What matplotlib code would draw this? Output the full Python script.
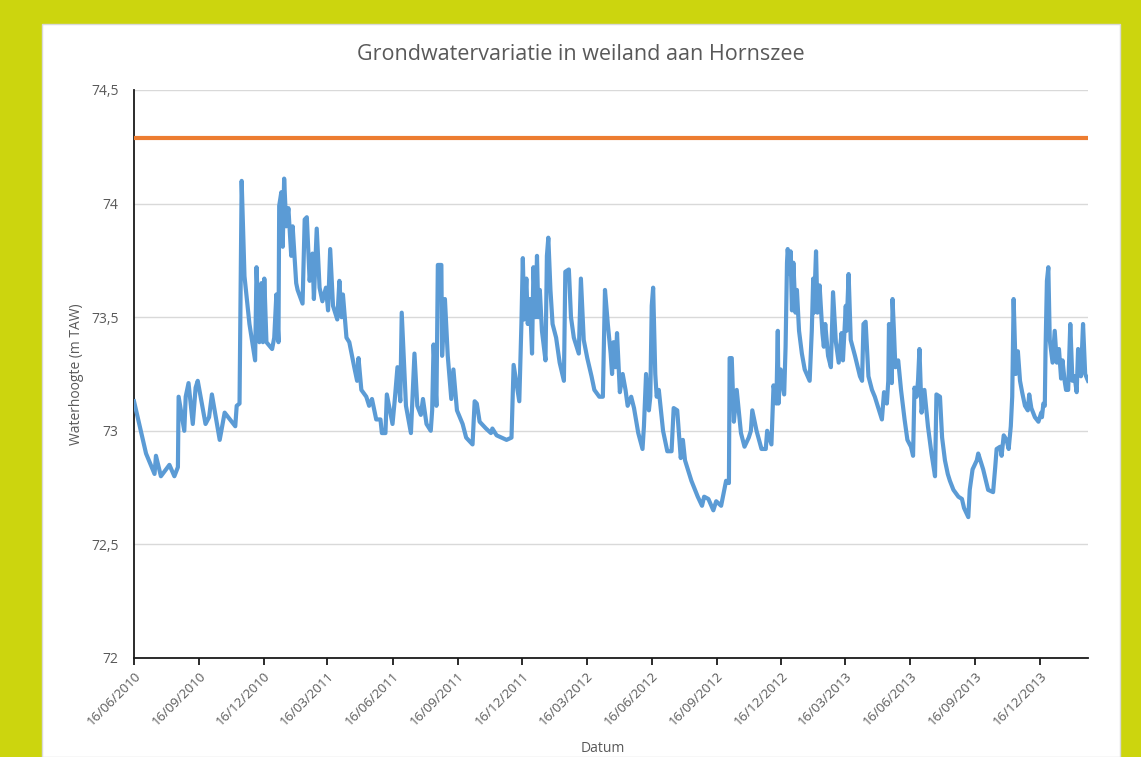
import numpy as np
import matplotlib
matplotlib.use('Agg')
import matplotlib.pyplot as plt
import matplotlib.dates as mdates
from matplotlib.patches import Rectangle
from matplotlib.ticker import FuncFormatter

# data: days after 16/06/2010 and water level (m TAW)
startdatum = np.datetime64('2010-06-16')
dagen = [0, 17, 29, 31, 38, 50, 57, 62, 63, 71, 73, 77, 83, 87, 90, 101, 106, 110, 121, 128,
         143, 145, 149, 152, 156, 163, 171, 173, 177, 180, 182, 184, 187, 195, 198, 201, 204, 205,
         208, 210, 212, 215, 218, 222, 224, 229, 231, 238, 241, 244, 248, 252, 254, 258, 262, 266,
         271, 274, 277, 281, 287, 290, 293, 295, 300, 304, 311, 315, 317, 321, 328, 332, 336, 342,
         348, 350, 355, 357, 365, 368, 372, 376, 378, 384, 391, 396, 400, 405, 408, 413, 419, 421,
         423, 427, 429, 434, 435, 439, 443, 448, 451, 456, 464, 469, 478, 481, 484, 488, 497, 504,
         506, 512, 519, 526, 533, 536, 541, 544, 547, 549, 551, 554, 556, 559, 562, 564, 567, 569,
         571, 573, 576, 581, 583, 585, 588, 591, 596, 601, 607, 609, 614, 617, 621, 626, 628, 631,
         635, 640, 646, 650, 657, 662, 665, 669, 673, 675, 677, 680, 682, 686, 690, 694, 697, 702,
         706, 712, 718, 720, 723, 727, 729, 731, 733, 736, 738, 741, 747, 753, 759, 762, 767, 772,
         775, 778, 787, 796, 802, 805, 811, 818, 822, 829, 836, 840, 841, 844, 847, 851, 857, 862,
         868, 871, 873, 879, 886, 892, 894, 900, 903, 907, 909, 910, 913, 918, 920, 922, 923, 926,
         927, 929, 931, 934, 936, 939, 943, 947, 954, 957, 959, 960, 963, 965, 968, 972, 974, 976,
         980, 984, 987, 991, 995, 999, 1001, 1005, 1006, 1009, 1012, 1018, 1025, 1028, 1030, 1033,
         1037, 1042, 1046, 1052, 1056, 1059, 1063, 1065, 1066, 1070, 1071, 1073, 1075, 1079, 1083,
         1088, 1092, 1097, 1100, 1102, 1105, 1107, 1109, 1112, 1116, 1121, 1126, 1131, 1133, 1138,
         1141, 1145, 1149, 1152, 1157, 1164, 1169, 1172, 1178, 1180, 1184, 1190, 1192, 1199, 1206,
         1213, 1216, 1218, 1223, 1225, 1228, 1232, 1235, 1238, 1240, 1242, 1245, 1248, 1251, 1254,
         1258, 1262, 1264, 1267, 1272, 1277, 1281, 1282, 1284, 1286, 1287, 1289, 1291, 1293, 1297,
         1300, 1303, 1306, 1309, 1311, 1314, 1316, 1319, 1322, 1325, 1328, 1331, 1333, 1337, 1340,
         1343, 1347]
peil = [73.13, 72.90, 72.81, 72.89, 72.80, 72.85, 72.80, 72.84, 73.15, 73.00, 73.15, 73.21, 73.03,
        73.19, 73.22, 73.03, 73.06, 73.16, 72.96, 73.08, 73.02, 73.11, 73.12, 74.10, 73.68, 73.47,
        73.31, 73.72, 73.39, 73.65, 73.39, 73.67, 73.39, 73.36, 73.41, 73.60, 73.39, 73.99, 74.05,
        73.81, 74.11, 73.90, 73.98, 73.77, 73.90, 73.65, 73.62, 73.56, 73.93, 73.94, 73.66, 73.78,
        73.58, 73.89, 73.63, 73.57, 73.63, 73.53, 73.80, 73.55, 73.49, 73.66, 73.50, 73.60, 73.41,
        73.39, 73.28, 73.22, 73.32, 73.18, 73.15, 73.11, 73.14, 73.05, 73.05, 72.99, 72.99, 73.16,
        73.03, 73.13, 73.28, 73.13, 73.52, 73.11, 72.99, 73.34, 73.11, 73.07, 73.14, 73.03, 73.00,
        73.09, 73.38, 73.11, 73.73, 73.73, 73.33, 73.58, 73.33, 73.14, 73.27, 73.09, 73.03, 72.97,
        72.94, 73.13, 73.12, 73.04, 73.01, 72.99, 73.01, 72.98, 72.97, 72.96, 72.97, 73.29, 73.19,
        73.13, 73.47, 73.76, 73.49, 73.67, 73.47, 73.58, 73.34, 73.72, 73.50, 73.77, 73.50, 73.62,
        73.44, 73.31, 73.77, 73.85, 73.62, 73.47, 73.41, 73.30, 73.22, 73.70, 73.71, 73.50, 73.41,
        73.36, 73.34, 73.67, 73.40, 73.32, 73.24, 73.18, 73.15, 73.15, 73.62, 73.47, 73.34, 73.25,
        73.39, 73.28, 73.43, 73.17, 73.25, 73.18, 73.11, 73.15, 73.10, 72.99, 72.92, 73.02, 73.25,
        73.09, 73.15, 73.55, 73.63, 73.25, 73.15, 73.18, 73.00, 72.91, 72.91, 73.10, 73.09, 72.88,
        72.96, 72.87, 72.78, 72.71, 72.67, 72.71, 72.70, 72.65, 72.69, 72.67, 72.78, 72.77, 73.32,
        73.32, 73.04, 73.18, 72.99, 72.93, 72.97, 73.00, 73.09, 73.00, 72.92, 72.92, 73.00, 72.94,
        73.20, 73.12, 73.44, 73.12, 73.27, 73.16, 73.37, 73.74, 73.80, 73.69, 73.79, 73.53, 73.74,
        73.52, 73.62, 73.44, 73.34, 73.27, 73.22, 73.44, 73.67, 73.52, 73.79, 73.52, 73.64, 73.43,
        73.37, 73.47, 73.33, 73.28, 73.61, 73.39, 73.30, 73.43, 73.31, 73.55, 73.44, 73.69, 73.40,
        73.33, 73.24, 73.22, 73.47, 73.48, 73.24, 73.18, 73.15, 73.09, 73.05, 73.17, 73.12, 73.22,
        73.47, 73.21, 73.58, 73.44, 73.28, 73.31, 73.18, 73.05, 72.96, 72.93, 72.89, 73.19, 73.15,
        73.22, 73.36, 73.08, 73.18, 73.02, 72.90, 72.80, 73.16, 73.15, 72.97, 72.87, 72.81, 72.78,
        72.74, 72.71, 72.70, 72.66, 72.62, 72.74, 72.83, 72.87, 72.90, 72.83, 72.74, 72.73, 72.84,
        72.92, 72.93, 72.89, 72.98, 72.96, 72.92, 73.02, 73.15, 73.58, 73.25, 73.35, 73.22, 73.17,
        73.11, 73.09, 73.16, 73.10, 73.06, 73.04, 73.08, 73.06, 73.12, 73.11, 73.35, 73.66, 73.72,
        73.40, 73.30, 73.44, 73.30, 73.36, 73.23, 73.31, 73.22, 73.18, 73.18, 73.47, 73.22, 73.24,
        73.17, 73.36, 73.24, 73.47, 73.25, 73.22]
drempel = 74.29
y_ticks = [72, 72.5, 73, 73.5, 74, 74.5]

datums = startdatum + np.array(dagen).astype('timedelta64[D]')

fig = plt.figure(figsize=(11.41, 7.57), dpi=100)
fig.patch.set_facecolor('#CCD50E')
fig.patches.append(Rectangle((42/1141, 0), (1120-42)/1141, 1-24/757, transform=fig.transFigure,
                             facecolor='white', edgecolor='#D9D9D9', lw=1, zorder=0))

ax = fig.add_axes([134/1141, 1-658/757, (1088-134)/1141, (658-90)/757])
ax.set_zorder(2)
ax.set_facecolor('white')
ax.plot(datums, peil, color='#5B9BD5', lw=3, solid_joinstyle='round', zorder=3)
ax.plot([datums[0], datums[-1]], [drempel, drempel], color='#ED7D31', lw=3, zorder=3)

ax.set_xlim(datums[0], datums[-1])
ax.set_ylim(72, 74.5)
ax.set_yticks(y_ticks)
ax.yaxis.set_major_formatter(FuncFormatter(lambda v, p: '{:g}'.format(v).replace('.', ',')))
ax.xaxis.set_major_locator(mdates.MonthLocator(bymonth=(3, 6, 9, 12), bymonthday=16))
ax.xaxis.set_major_formatter(mdates.DateFormatter('%d/%m/%Y'))
ax.grid(axis='y', color='#D9D9D9', lw=1)
ax.set_axisbelow(True)

for s in ['top', 'right']:
    ax.spines[s].set_visible(False)
for s in ['left', 'bottom']:
    ax.spines[s].set_color('#1A1A1A')
    ax.spines[s].set_linewidth(1.3)

ax.tick_params(axis='y', length=0, pad=11, labelsize=10, labelcolor='#595959')
ax.tick_params(axis='x', length=5, width=1.3, color='#1A1A1A', direction='out',
               labelsize=9.5, labelcolor='#595959', pad=3)
for lbl in ax.get_xticklabels():
    lbl.set_rotation(45)
    lbl.set_ha('right')
    lbl.set_rotation_mode('anchor')

fam = ['Open Sans', 'DejaVu Sans']
for lbl in ax.get_xticklabels() + ax.get_yticklabels():
    lbl.set_family(fam)

fig.text(581/1141, 1-55/757, 'Grondwatervariatie in weiland aan Hornszee', ha='center', va='center',
         fontsize=15.5, color='#595959', family=fam)
fig.text(76/1141, 1-374/757, 'Waterhoogte (m TAW)', rotation=90, ha='center', va='center',
         fontsize=10, color='#595959', family=fam)
fig.text(603/1141, 1/757, 'Datum', ha='center', va='bottom',
         fontsize=10, color='#595959', family=fam)

fig.savefig('out.png', dpi=100, facecolor=fig.get_facecolor())
